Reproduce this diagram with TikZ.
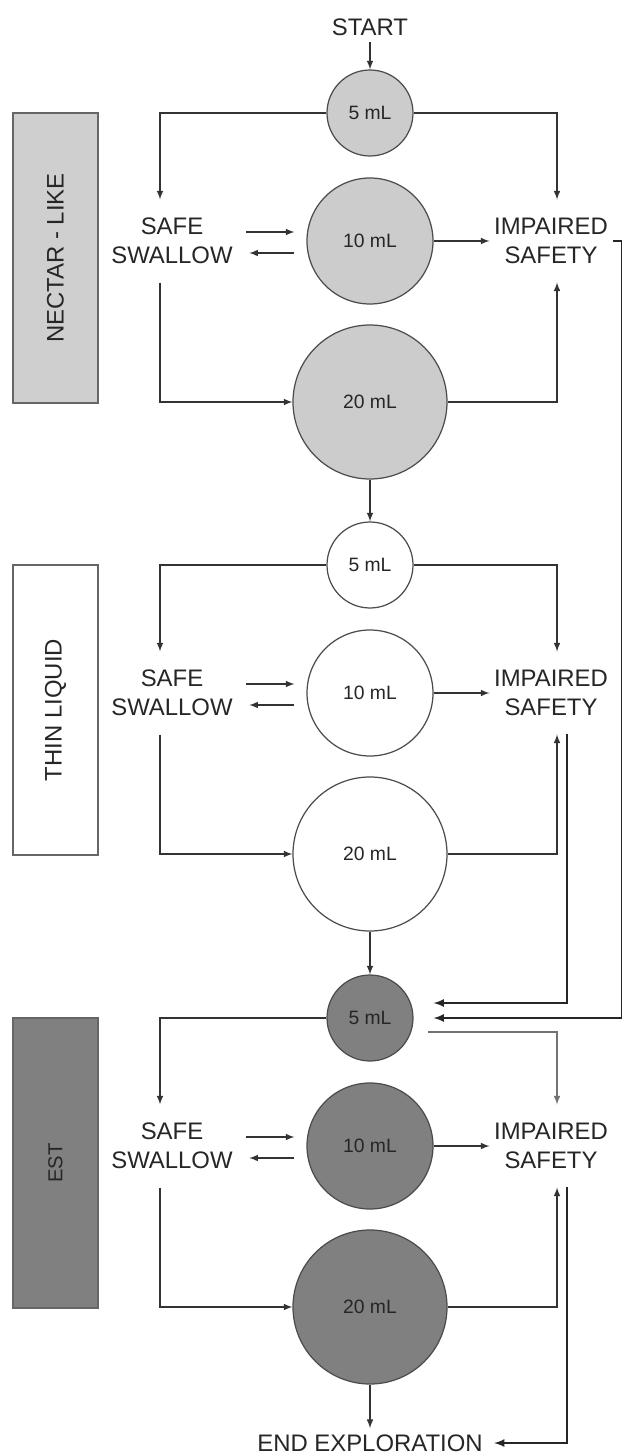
\documentclass[tikz,border=0pt]{standalone}
\usepackage{fontspec}
\setmainfont{Liberation Sans}
\usepackage{tikz}
\usetikzlibrary{calc}

\tikzset{
  txt/.style={text=black!85,font=\fontsize{13.6}{16.5}\selectfont},
  state/.style={txt,align=center,inner xsep=0.8mm,inner ysep=3.6mm},
  vol/.style={circle,draw=black!70,line width=0.7pt,inner sep=0pt,text=black!85,font=\fontsize{11}{13}\selectfont},
  consbox/.style={txt,draw=black!60,line width=0.9pt,rotate=90,minimum width=5.8cm,minimum height=1.7cm,inner sep=0pt},
  back/.style={->,line width=1pt,color=black!85}
}

\begin{document}
\begin{tikzpicture}[>=latex,line width=0.7pt,color=black!80]
\useasboundingbox (0,0) rectangle (12.48,-29.08);
\node[txt] (start) at (7.4,-0.54) {START};
% nectar-like
\begin{scope}[shift={(0,-2.26)}]
\node[consbox,fill=gray!38] (necbox) at (1.11,-2.9) {NECTAR - LIKE};
\node[vol,fill=gray!40,minimum size=1.72cm] (nec5) at (7.4,0) {5 mL};
\node[vol,fill=gray!40,minimum size=2.52cm] (nec10) at (7.4,-2.56) {10 mL};
\node[vol,fill=gray!40,minimum size=3.08cm] (nec20) at (7.4,-5.78) {20 mL};
\node[state] (necsafe) at (3.44,-2.56) {SAFE\\SWALLOW};
\node[state] (necimp) at (11.02,-2.56) {IMPAIRED\\SAFETY};
\draw[->] (nec5.west) -| ([xshift=-2.4mm]necsafe.north);
\draw[->] (nec5.east) -| ([xshift=1.2mm]necimp.north);
\draw[->,shorten <=1.8mm,shorten >=2.4mm] ([yshift=1.8mm]necsafe.east) -- ([yshift=1.8mm]nec10.west);
\draw[->,shorten <=2.4mm,shorten >=2.4mm] ([yshift=-2.4mm]nec10.west) -- ([yshift=-2.4mm]necsafe.east);
\draw[->] (nec10) -- (necimp);
\draw[->] ([xshift=-2.4mm]necsafe.south) |- (nec20.west);
\draw[->] (nec20.east) -| ([xshift=1.2mm]necimp.south);
\end{scope}
% thin liquid
\begin{scope}[shift={(0,-11.3)}]
\node[consbox,fill=white] (thinbox) at (1.11,-2.9) {THIN LIQUID};
\node[vol,fill=white,minimum size=1.72cm] (thin5) at (7.4,0) {5 mL};
\node[vol,fill=white,minimum size=2.52cm] (thin10) at (7.4,-2.56) {10 mL};
\node[vol,fill=white,minimum size=3.08cm] (thin20) at (7.4,-5.78) {20 mL};
\node[state] (thinsafe) at (3.44,-2.56) {SAFE\\SWALLOW};
\node[state] (thinimp) at (11.02,-2.56) {IMPAIRED\\SAFETY};
\draw[->] (thin5.west) -| ([xshift=-2.4mm]thinsafe.north);
\draw[->] (thin5.east) -| ([xshift=1.2mm]thinimp.north);
\draw[->,shorten <=1.8mm,shorten >=2.4mm] ([yshift=1.8mm]thinsafe.east) -- ([yshift=1.8mm]thin10.west);
\draw[->,shorten <=2.4mm,shorten >=2.4mm] ([yshift=-2.4mm]thin10.west) -- ([yshift=-2.4mm]thinsafe.east);
\draw[->] (thin10) -- (thinimp);
\draw[->] ([xshift=-2.4mm]thinsafe.south) |- (thin20.west);
\draw[->] (thin20.east) -| ([xshift=1.2mm]thinimp.south);
\end{scope}
% EST
\begin{scope}[shift={(0,-20.36)}]
\node[consbox,fill=gray,font=\fontsize{11.5}{13}\selectfont] (estbox) at (1.11,-2.9) {EST};
\node[vol,fill=gray,minimum size=1.72cm] (est5) at (7.4,0) {5 mL};
\node[vol,fill=gray,minimum size=2.52cm] (est10) at (7.4,-2.56) {10 mL};
\node[vol,fill=gray,minimum size=3.08cm] (est20) at (7.4,-5.78) {20 mL};
\node[state] (estsafe) at (3.44,-2.56) {SAFE\\SWALLOW};
\node[state] (estimp) at (11.02,-2.56) {IMPAIRED\\SAFETY};
\draw[->] (est5.west) -| ([xshift=-2.4mm]estsafe.north);
\draw[->,black!55] ([xshift=2.8mm,yshift=-2.8mm]est5.east) -| ([xshift=1.2mm]estimp.north);
\draw[->,shorten <=1.8mm,shorten >=2.4mm] ([yshift=1.8mm]estsafe.east) -- ([yshift=1.8mm]est10.west);
\draw[->,shorten <=2.4mm,shorten >=2.4mm] ([yshift=-2.4mm]est10.west) -- ([yshift=-2.4mm]estsafe.east);
\draw[->] (est10) -- (estimp);
\draw[->] ([xshift=-2.4mm]estsafe.south) |- (est20.west);
\draw[->] (est20.east) -| ([xshift=1.2mm]estimp.south);
\end{scope}
\node[txt] (finish) at (7.4,-28.86) {END EXPLORATION};
% flow between blocks
\draw[->] (start) -- (nec5);
\draw[->] (nec20) -- (thin5);
\draw[->] (thin20) -- (est5);
\draw[->] (est20) -- (finish);
\draw[back] (necimp.east) -- ++(0.18,0) |- ([xshift=4mm]est5.east);
\draw[back] ([xshift=3.2mm]thinimp.south) |- ([xshift=4mm,yshift=3mm]est5.east);
\draw[back] ([xshift=3.2mm]estimp.south) |- ([xshift=1mm]finish.east);
\end{tikzpicture}
\end{document}
